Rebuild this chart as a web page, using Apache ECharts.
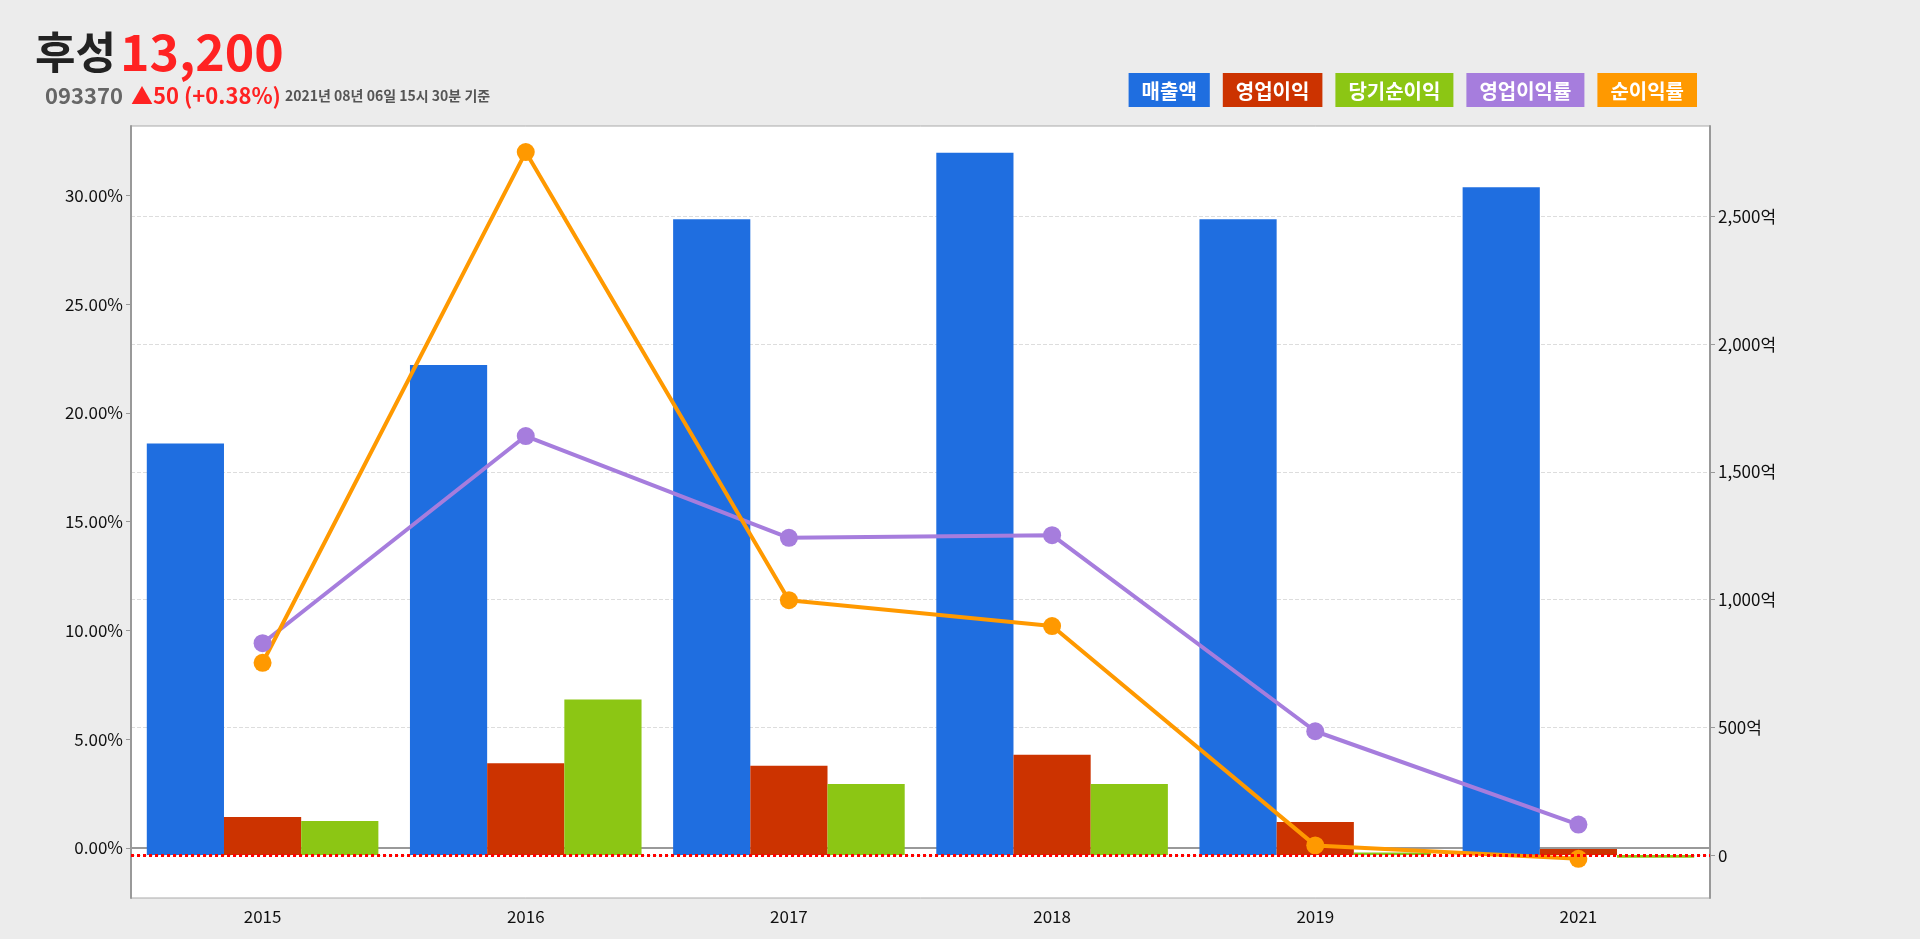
<!DOCTYPE html>
<html><head><meta charset="utf-8">
<script src="https://cdn.jsdelivr.net/npm/echarts@6/dist/echarts.min.js"></script>
<style>html,body{margin:0;background:#ececec}#c{width:1920px;height:939px}</style>
</head><body><div id="c"></div>
<script>
var years = ['2015', '2016', '2017', '2018', '2019', '2021'];
var sales = [1612, 1919, 2490, 2750, 2490, 2615];
var opProfit = [149, 360, 350, 393, 130, 24];
var netProfit = [134, 609, 278, 278, 10, -10];
var opMargin = [9.41, 18.94, 14.26, 14.38, 5.36, 1.07];
var netMargin = [8.51, 32.0, 11.39, 10.2, 0.11, -0.51];
var pctTicks = [0, 5, 10, 15, 20, 25, 30];
var wonTicks = [0, 500, 1000, 1500, 2000, 2500];

var font = 'Noto Sans CJK KR';
var chart = echarts.init(document.getElementById('c'));
var legendStyle = {
    '매출액': '#1f6ee0', '영업이익': '#cc3300', '당기순이익': '#8cc614',
    '영업이익률': '#a67ddd', '순이익률': '#ff9900'
};
var rich = {};
var keys = ['a', 'b', 'c', 'd', 'e'];
Object.keys(legendStyle).forEach(function (n, i) {
    rich[keys[i]] = {
        backgroundColor: legendStyle[n], color: '#fff', fontSize: 20, fontWeight: 'bold',
        fontFamily: font, padding: [8, 13, 6, 13]
    };
});

var option = {
    backgroundColor: '#ececec',
    animation: false,
    textStyle: {fontFamily: font},
    title: [
        {left: 30, top: 22, text: '{n|후성} {p|13,200}',
            textStyle: {rich: {
                n: {fontSize: 44, fontWeight: 'bold', color: '#222', fontFamily: font},
                p: {fontSize: 50, fontWeight: 'bold', color: '#ff2222', fontFamily: font}
            }}},
        {left: 40, top: 80, text: '{g|093370}  {r|▲50 (+0.38%)} {d|2021년 08년 06일 15시 30분 기준}',
            textStyle: {rich: {
                g: {fontSize: 22, fontWeight: 'bold', color: '#666', fontFamily: font},
                r: {fontSize: 22, fontWeight: 'bold', color: '#ff2222', fontFamily: font},
                d: {fontSize: 14, fontWeight: 'bold', color: '#555', fontFamily: font}
            }}}
    ],
    legend: {
        right: 218, top: 68, itemWidth: 0, itemHeight: 0, itemGap: 8, icon: 'rect',
        selectedMode: false,
        data: Object.keys(legendStyle),
        formatter: function (n) {
            return '{' + keys[Object.keys(legendStyle).indexOf(n)] + '|' + n + '}';
        },
        textStyle: {rich: rich, padding: 0}
    },
    grid: {
        left: 131, right: 210, top: 126, bottom: 41, show: true,
        backgroundColor: '#fff', borderColor: '#aaa', borderWidth: 1
    },
    xAxis: {
        type: 'category', data: years,
        axisLine: {lineStyle: {color: '#999', width: 2}},
        axisTick: {alignWithLabel: true, lineStyle: {color: '#999'}},
        axisLabel: {color: '#111', fontSize: 17, margin: 10}
    },
    yAxis: [
        {
            type: 'value', min: -2.31, max: 33.2, position: 'left',
            axisLine: {show: true, lineStyle: {color: '#999', width: 2}},
            axisTick: {show: true, customValues: pctTicks, lineStyle: {color: '#999'}},
            axisLabel: {customValues: pctTicks, color: '#111', fontSize: 17,
                formatter: function (v) { return v.toFixed(2) + '%'; }},
            splitLine: {show: false}
        },
        {
            type: 'value', min: -168, max: 2855, position: 'right',
            axisLine: {show: true, lineStyle: {color: '#999', width: 2}},
            axisTick: {show: true, customValues: wonTicks, lineStyle: {color: '#999'}},
            axisLabel: {customValues: wonTicks, color: '#111', fontSize: 17,
                formatter: function (v) { return v === 0 ? '0' : v.toLocaleString('en-US') + '억'; }},
            splitLine: {show: true, lineStyle: {color: '#ddd', type: 'dashed'}}
        }
    ],
    series: [
        {name: '매출액', type: 'bar', yAxisIndex: 1, data: sales, barGap: '0%', barCategoryGap: '12%',
            itemStyle: {color: '#1f6ee0'},
            markLine: {symbol: 'none', silent: true, label: {show: false},
                lineStyle: {color: '#ff0000', type: 'dotted', width: 3}, data: [{yAxis: 0}]}},
        {name: '영업이익', type: 'bar', yAxisIndex: 1, data: opProfit, itemStyle: {color: '#cc3300'}},
        {name: '당기순이익', type: 'bar', yAxisIndex: 1, data: netProfit, itemStyle: {color: '#8cc614'}},
        {name: '영업이익률', type: 'line', yAxisIndex: 0, data: opMargin, symbol: 'circle', symbolSize: 18,
            lineStyle: {width: 4, color: '#a67ddd'}, itemStyle: {color: '#a67ddd'}},
        {name: '순이익률', type: 'line', yAxisIndex: 0, data: netMargin, symbol: 'circle', symbolSize: 18,
            lineStyle: {width: 4, color: '#ff9900'}, itemStyle: {color: '#ff9900'}}
    ]
};
chart.setOption(option);
</script>
</body></html>
